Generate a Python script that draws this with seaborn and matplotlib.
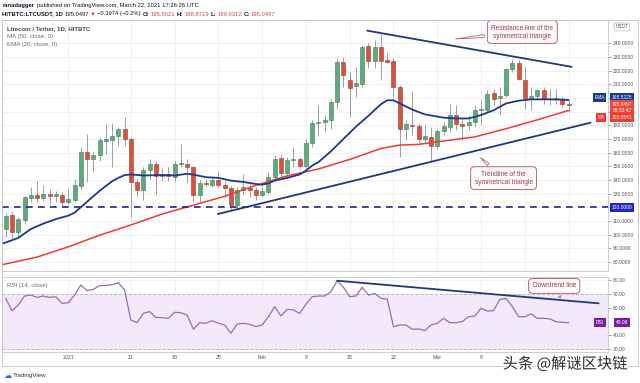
import numpy as np
import pandas as pd
import matplotlib
matplotlib.use("Agg")
import matplotlib.pyplot as plt
import matplotlib.patheffects as pe
import seaborn as sns
from matplotlib.patches import Rectangle

# daily candles, 2020-12-22 .. 2021-03-22
start, end = "2020-12-22", "2021-03-22"
opens = [104, 114, 101.5, 111, 127, 129, 127, 129.5, 128.5, 129.2,
         124, 125.5, 135.8, 160.8, 155, 158.3, 168.4, 169.4, 171.8, 177.5,
         170, 138.3, 132.6, 147.4, 151.8, 143.2, 144.4, 142.4, 151.5, 151.7,
         149.3, 129.2, 137.8, 136.6, 140.2, 136.6, 134.1, 121.8, 132.6, 133.9,
         132.6, 129, 130.9, 141.9, 156.1, 144.9, 154.7, 155.4, 150, 167.2,
         181.6, 182.4, 183.6, 197.1, 226.5, 213.5, 208.6, 210.6, 238, 227.2,
         237.5, 227.7, 227.2, 208.1, 177.5, 180.4, 179.2, 170.1, 171.3, 165.2,
         175.5, 178.7, 187.3, 180.8, 180, 182.4, 190.9, 191.4, 203.7, 200.2,
         202, 220.9, 225.8, 213.5, 200.3, 201.2, 205.7, 199.5, 199, 199.5, 195.56]
closes = [113.8, 101.5, 111.3, 127.2, 128.7, 126.8, 129.5, 128.5, 129.5, 123.5,
          126, 136.3, 160.8, 155.4, 158.3, 168.9, 169.7, 171.8, 177, 170.1,
          138.3, 132.6, 147.4, 151.8, 143.2, 144, 142.5, 151.7, 152.2, 149.5,
          129.2, 137.8, 137, 140.2, 136.6, 134.1, 121.8, 132.6, 134.6, 132.6,
          129, 131.6, 141.9, 155.4, 144.9, 154.7, 155.4, 150, 167.2, 181.6,
          182.2, 184.1, 197.1, 226.5, 216.7, 207.6, 211, 237.5, 227.2, 237.5,
          227.2, 226.5, 208.1, 177.5, 181.1, 179.2, 170.1, 171.8, 164.5, 175.8,
          179.2, 187.3, 180.6, 179.7, 182.4, 191, 192.2, 203.2, 199.5, 201.2,
          220.9, 225.8, 214.2, 200.3, 201.2, 205.7, 199.5, 199, 199.7, 195.4, 195.05]
highs = [115.5, 116.2, 112.5, 128.5, 134.6, 139.5, 136.3, 133.4, 132, 130.9,
         133.4, 140.7, 164, 173.8, 161.5, 171.3, 181.2, 181.9, 178.7, 186,
         171.3, 140.7, 149.3, 155.4, 154.2, 149, 149.3, 154.2, 166, 155.4,
         150.5, 140, 140.7, 141.9, 146.8, 139.5, 135.8, 134.6, 144.4, 137,
         134.6, 134.6, 145.6, 157.9, 157.9, 156.6, 164, 156.6, 169.6, 184.1,
         195, 187.3, 199.5, 229, 230.2, 219.1, 222.8, 238.8, 240, 242.4,
         246.8, 232.6, 229, 209.3, 183.6, 204.9, 181.1, 180, 178.7, 177.5,
         182.4, 195.9, 194.6, 185.6, 187.3, 194.6, 198.3, 205.7, 206.9, 208.1,
         221.6, 228.9, 227.7, 222.8, 208.1, 206.9, 208.1, 206.9, 206.9, 200.8, 198.87]
lows = [98, 96.6, 97.8, 107.8, 123.5, 123.5, 124.8, 122.4, 124, 121.1,
        122.4, 123.5, 133.4, 138.3, 145.6, 154.2, 159.1, 149.8, 164.8, 164.8,
        112.5, 127.2, 125.3, 140.7, 129.7, 139, 139.5, 138.3, 149.3, 138.3,
        124.8, 123.6, 134.6, 134.6, 134.6, 127.7, 117.9, 118.6, 129.7, 127.7,
        125.3, 127.2, 129.7, 140.7, 141.9, 143.2, 149.3, 148.1, 148.1, 164,
        172, 175, 177.5, 192.2, 208.1, 186, 200.8, 208.1, 221.6, 221.6,
        213.5, 225.3, 200.8, 156.6, 168.9, 172.6, 167.7, 167.7, 154.2, 162.8,
        172.6, 175, 176.3, 170.1, 176.3, 178.7, 179.9, 189.7, 194.6, 188.5,
        200.8, 219.1, 213, 192.2, 191, 198.3, 195.9, 194.6, 195.9, 193.4, 189.93]
rsi = [66.7, 57.8, 61.9, 68.4, 69.1, 67.4, 68.4, 67.4, 67.9, 63.1,
       63.6, 69.1, 76.4, 72.3, 73.2, 75.9, 76.1, 76.6, 78.1, 72.8,
       51.0, 49.1, 55.8, 57.1, 52.9, 52.7, 52.2, 56.6, 56.3, 54.6,
       44.3, 49.1, 48.6, 50.5, 48.6, 47.4, 41.4, 48.1, 48.6, 47.9,
       46.2, 47.4, 53.4, 60.7, 53.9, 58.7, 58.3, 55.8, 62.4, 67.9,
       68.4, 68.4, 71.6, 79.5, 74.7, 67.9, 68.4, 74.7, 69.1, 70.3,
       66.7, 66.2, 46.2, 47.4, 47.4, 44.3, 44.5, 43.3, 47.4, 48.6,
       52.2, 49.1, 49.1, 49.8, 53.4, 53.9, 59.5, 57.5, 57.8, 66.0,
       66.7, 60.7, 53.4, 53.4, 55.4, 52.2, 52.2, 51.8, 49.8, 49.3, 49.09]

# indicator lines (day offset from 2021-01-01, value)
ema_day = [-10.5, -8, -6, -4, -2, 0, 1, 2, 3, 4, 5, 6, 7, 8, 9, 10, 12, 14, 16, 17,
           19, 20, 22, 24, 26, 28, 30, 31, 32, 33, 35, 37, 38, 39, 40, 42, 44, 46, 48,
           50, 51, 52, 53, 55, 57, 60, 62, 64, 66, 68, 69, 70, 72, 74, 77, 79, 80]
ema_val = [93.4, 97.5, 104, 108, 111.3, 113.8, 116, 120, 124, 128, 132, 135.5, 139,
           141.5, 143.5, 144, 143.2, 143.5, 143.5, 143.2, 144.5, 143.9, 142, 141.5,
           139.5, 138.5, 137, 136.5, 137.5, 139.5, 141.5, 144, 146.8, 150.5, 153,
           161, 170, 179, 187, 195.5, 198.3, 198.3, 196, 191.5, 188, 185.6, 185, 185,
           187.5, 191, 193.5, 196, 198, 199, 199, 198.8, 198.5]
ma_day = [-10.5, -5, 0, 5, 10, 15, 20, 25, 30, 35, 40, 45, 50, 53, 56, 60, 65, 70, 75, 80]
ma_val = [78, 83.5, 91, 99.5, 107, 115, 121.5, 128, 136, 143, 148, 155, 163,
          165.5, 166, 168.5, 171.5, 177.5, 184, 190.85]

resist_day, resist_val = [47.8, 80.5], [249.3, 222.8]
support_day, support_val = [23.9, 83.5], [115.0, 181.9]
rsi_trend_day, rsi_trend_val = [43, 84.8], [79.5, 63.1]

tick_days = [0, 10, 17, 24, 31, 38, 45, 52, 59, 66, 73, 80]
tick_labels = ['2021', '11', '18', '25', 'Feb', '8', '15', '22', 'Mar', '8', '', '']
price_ticks = list(range(80, 250, 10))
hidden_price_ticks = [120, 190, 200]   # sit under the coloured price tags
rsi_ticks = [30, 40, 60, 70, 80]

sns.set_theme(style="whitegrid")
plt.rcParams['font.family'] = ['Liberation Sans', 'DejaVu Sans', 'Noto Sans CJK SC']

W, H = 640, 383
fig = plt.figure(figsize=(6.4, 3.83), dpi=100)
fig.patch.set_facecolor('white')
renderer = fig.canvas.get_renderer()

def box(x0, y0, x1, y1):
    return [x0 / W, 1 - y1 / H, (x1 - x0) / W, (y1 - y0) / H]

def ftext(px, py, s, **kw):
    kw.setdefault('va', 'center')
    return fig.text(px / W, 1 - py / H, s, **kw)

def text_run(px, py, pieces, size, gap=1.6):
    # lay pieces out one after another, measuring each
    x = px
    for s, w, c in pieces:
        t = ftext(x, py, s, fontsize=size, weight=w, color=c)
        x += t.get_window_extent(renderer=renderer).width + gap

ax = fig.add_axes(box(2, 20, 608, 271))
rx = fig.add_axes(box(2, 277, 608, 352), sharex=ax)

df = pd.DataFrame({'date': pd.date_range(start, end), 'open': opens, 'high': highs,
                   'low': lows, 'close': closes, 'rsi': rsi})
df['day'] = (df.date - pd.Timestamp('2021-01-01')).dt.days
up = df.close >= df.open
body_lo = df[['open', 'close']].min(axis=1)
body_h = (df.close - df.open).abs().clip(lower=0.6)

# candles
ax.vlines(df.day, df.low, df.high, color='#8d9099', lw=0.6, zorder=2)
ax.bar(df.day, body_h, bottom=body_lo, width=0.64,
       color=np.where(up, '#62a97f', '#d8533f'),
       edgecolor=np.where(up, '#3f7d5a', '#a4382b'), lw=0.4, zorder=3)

sns.lineplot(x=ma_day, y=ma_val, ax=ax, color='#f03a32', lw=1.1, zorder=4)
sns.lineplot(x=ema_day, y=ema_val, ax=ax, color='#1c3a8c', lw=1.3, zorder=4)
sns.lineplot(x=resist_day, y=resist_val, ax=ax, color='#1f3a78', lw=1.3, zorder=5)
sns.lineplot(x=support_day, y=support_val, ax=ax, color='#1f3a78', lw=1.3, zorder=5)
ax.axhline(120, color='#22229a', lw=1.2, ls=(0, (4, 3.2)), zorder=4)

ax.set_xlim(-10.6, 86.3)
ax.set_ylim(73.3, 257.1)
ax.yaxis.tick_right()
ax.set_yticks(price_ticks)
ax.set_yticklabels(['' if v in hidden_price_ticks else f'{v:.4f}' for v in price_ticks])
ax.tick_params(axis='y', length=2, pad=1.5, labelsize=3.6, colors='#50535e', width=0.4)
ax.tick_params(axis='x', labelbottom=False, length=0)

# RSI panel
rx.axhspan(30, 70, color='#f4e8fb', zorder=0, lw=0)
for lvl in (70, 30):
    rx.axhline(lvl, color='#a3a3ad', lw=0.5, ls=(0, (4, 3)), zorder=1)
sns.lineplot(x=df.day, y=df.rsi, ax=rx, color='#9a6bb5', lw=0.9, zorder=3)
sns.lineplot(x=rsi_trend_day, y=rsi_trend_val, ax=rx, color='#1f3a78', lw=1.3, zorder=4)
rx.set_ylim(27.8, 82.2)
rx.yaxis.tick_right()
rx.set_yticks(rsi_ticks)
rx.set_yticklabels([f'{v:.2f}' for v in rsi_ticks])
rx.tick_params(axis='y', length=2, pad=1.5, labelsize=3.6, colors='#50535e', width=0.4)
rx.set_xticks(tick_days)
rx.set_xticklabels(tick_labels)
rx.tick_params(axis='x', length=0, pad=2.5, labelsize=3.8, colors='#50535e')

for a in (ax, rx):
    a.set_xlabel('')
    a.set_ylabel('')
    a.set_facecolor('white')
    a.grid(True, color='#eceef2', lw=0.6)
    for s in a.spines.values():
        s.set_color('#c4c6cc')
        s.set_linewidth(0.6)

# callouts
call = dict(fontsize=4.7, color='#9c3d4a', ha='center', va='center',
            bbox=dict(boxstyle='round,pad=0.6', fc='#fffafa', ec='#b8666f', lw=0.7),
            arrowprops=dict(arrowstyle='wedge,tail_width=0.45', fc='#fffafa', ec='#b8666f', lw=0.6),
            zorder=6)
ax.annotate('Resistance line of the\nsymmetrical triangle', xy=(61.5, 243), xytext=(72.6, 248.3), **call)
ax.annotate('Trendline of the\nsymmetrical triangle', xy=(65.6, 157.5), xytext=(69.6, 141.3), **call)
rx.annotate('Downtrend line', xy=(78.7, 67), xytext=(77.7, 75.7), **call)

# header
dark = '#131722'
red = '#e0474c'
text_run(3, 6, [('ranadagger', 'bold', dark),
                ('published on TradingView.com, March 22, 2021 17:26:26 UTC', 'normal', dark)], 4.2)
text_run(2, 14, [('HITBTC:LTCUSDT, 1D', 'bold', dark), ('195.0497', 'normal', dark),
                 ('▼', 'normal', red), ('−0.3974 (−0.2%)', 'normal', dark),
                 ('O:', 'bold', dark), ('195.5621', 'normal', red),
                 ('H:', 'bold', dark), ('198.8719', 'normal', red),
                 ('L:', 'bold', dark), ('189.9312', 'normal', red),
                 ('C:', 'bold', dark), ('195.0497', 'normal', red)], 4.2, gap=1.4)

ftext(7, 28.5, 'Litecoin / Tether, 1D, HITBTC', fontsize=4.4, weight='bold', color='#4a4d57')
ftext(7, 36.5, 'MA (50, close, 0)', fontsize=4.4, color='#6a6d78')
ftext(7, 44.5, 'EMA (20, close, 0)', fontsize=4.4, color='#6a6d78')
ftext(7, 285, 'RSI (14, close)', fontsize=4.4, color='#6a6d78')

# right-axis price tags
tag = lambda fc: dict(boxstyle='square,pad=0.35', fc=fc, ec='none')
ftext(622, 27, 'USDT', fontsize=3.4, ha='center', color='#50535e',
      bbox=dict(boxstyle='round,pad=0.3', fc='white', ec='#b2b5be', lw=0.5))
ftext(599.5, 97.5, 'EMA', fontsize=3.5, ha='center', color='white', bbox=tag('#1c3a8c'))
ftext(622, 97.5, '198.5225', fontsize=3.5, ha='center', color='white', bbox=tag('#1c3a8c'))
ftext(622, 107, '195.0497\n06:33:42', fontsize=3.5, ha='center', color='white',
      linespacing=1.25, bbox=tag('#e9473c'))
ftext(601, 117.5, 'MA', fontsize=3.5, ha='center', color='white', bbox=tag('#f03a32'))
ftext(622, 117.5, '190.8541', fontsize=3.5, ha='center', color='white', bbox=tag('#f03a32'))
ftext(622, 207.5, '120.0000', fontsize=3.5, ha='center', color='white', bbox=tag('#2424cf'))
ftext(600, 322.5, 'RSI', fontsize=3.5, ha='center', color='white', bbox=tag('#7b1fa2'))
ftext(622, 322.5, '49.09', fontsize=3.5, ha='center', color='white', bbox=tag('#7b1fa2'))

# frame, footer and watermark
fig.patches.append(Rectangle((2 / W, 1 - 366 / H), 636 / W, 346 / H, transform=fig.transFigure,
                             fill=False, ec='#c4c6cc', lw=0.6))
ftext(4, 375, '☁', fontsize=6, color='#2962ff', family=['DejaVu Sans'])
ftext(13, 375, 'TradingView', fontsize=4.4, color='#2f3241')
ftext(565, 364, '头条 @解谜区块链', fontsize=11, ha='center', color='#2b2b2b',
      family=['Noto Sans CJK SC', 'DejaVu Sans'],
      path_effects=[pe.withStroke(linewidth=2, foreground='white')])

fig.savefig('out.png', dpi=100, facecolor='white')
